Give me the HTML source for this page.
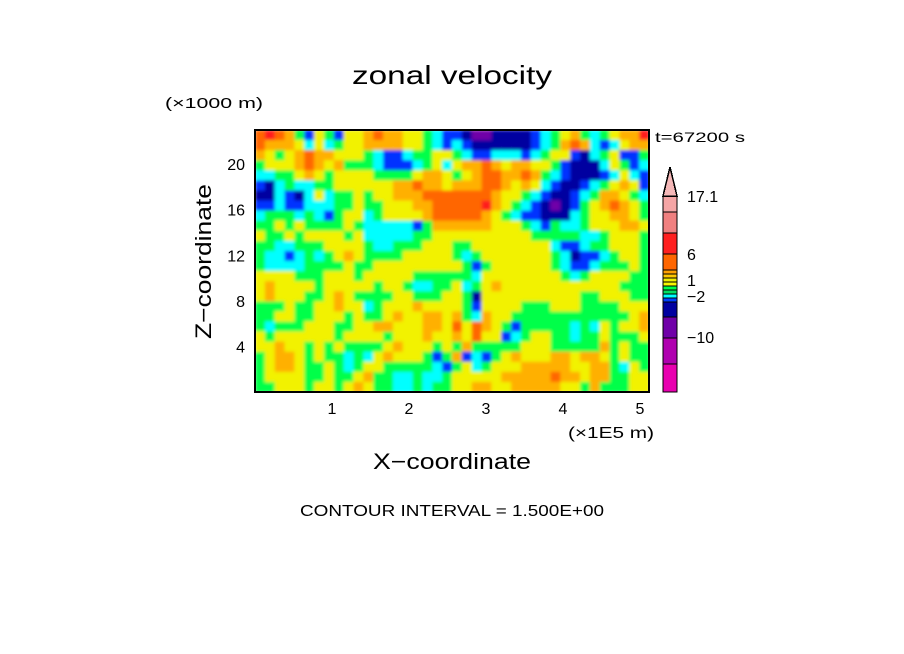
<!DOCTYPE html>
<html><head><meta charset="utf-8"><style>
html,body{margin:0;padding:0;background:#fff;}
svg{display:block;font-family:"Liberation Sans",sans-serif;}
</style></head><body>
<svg id="chart" width="904" height="654" viewBox="0 0 904 654">
<defs>
<clipPath id="plotclip"><rect x="255" y="130" width="394" height="262"/></clipPath>
<filter id="soft" x="-5%" y="-5%" width="110%" height="110%"><feGaussianBlur stdDeviation="1.6" edgeMode="duplicate"/></filter>
</defs>
<text x="352" y="84" font-size="26" textLength="200" lengthAdjust="spacingAndGlyphs">zonal velocity</text>
<text x="165" y="108" font-size="15" textLength="98" lengthAdjust="spacingAndGlyphs">(×1000 m)</text>
<text x="655" y="142" font-size="14" textLength="90" lengthAdjust="spacingAndGlyphs">t=67200 s</text>
<g clip-path="url(#plotclip)"><g id="heat" filter="url(#soft)"></g></g>
<rect x="255" y="130" width="394" height="262" fill="none" stroke="#000" stroke-width="2"/>
<g id="xticks"></g>
<g id="yticks"></g>
<text x="568" y="438" font-size="16" textLength="86" lengthAdjust="spacingAndGlyphs">(×1E5 m)</text>
<text x="373" y="469" font-size="22" textLength="158" lengthAdjust="spacingAndGlyphs">X−coordinate</text>
<text transform="translate(211,339) rotate(-90)" font-size="22" textLength="155" lengthAdjust="spacingAndGlyphs">Z−coordinate</text>
<text x="300" y="516" font-size="16" textLength="304" lengthAdjust="spacingAndGlyphs">CONTOUR INTERVAL = 1.500E+00</text>
<g id="cbar" shape-rendering="crispEdges"></g>
</svg>
<script>
// heatmap level indices (0 purple ... 8 red), rows top (high Z) to bottom
const zonalRows = [
"7876425425567665543221001111234564345668",
"7666535345566665543232111111234676323566",
"6545676655543223445543223332345521345224",
"4555676564443222345356676566554211135423",
"3344565455554444566545677667643211123532",
"2134334455555566766566677656532112345652",
"1132135344545566677777776554321123466543",
"2232233344544555667777786543210124567654",
"3444343245534555567777765432211134556654",
"4454544445433333246666665554324334555665",
"5445455554533333445555555555444443345554",
"4433444555543344455544555555553223445554",
"4332343456544445555543455555554312234554",
"4333344445445555555554245555554322344454",
"5555444555455555444444355555555434555544",
"5655554555554554334453456555555555555444",
"5655544565444455444554155555555554455544",
"4445445565534555655554255554445554444555",
"4455445554544565566564365544444444444456",
"4344455544556655566575765424444434354556",
"5455555545555455565565755234554434454445",
"5565545454444565554546444445554444464544",
"4566545443435655542462324565556656654544",
"4566544543455444443245345556666655664354",
"4555544544564433433455555666667665664455",
"4455545545654433434455665566666554644455"
];
const zonalLevels = zonalRows.map(r => r.split("").map(Number));
const levelColors = ["#7000a8","#0000a0","#0030ff","#00ffff","#00ff48","#f2f200","#ffb000","#ff6600","#ff1e1e"];
const xTickValues = [1,2,3,4,5];
const xTickLabels = ["1","2","3","4","5"];
const yTickValues = [4,8,12,16,20];
const yTickLabels = ["4","8","12","16","20"];
const cbarColors = ["#f5a5a5","#f08080","#ff2020","#ff6600","#ffa000","#ffc800","#f0f000","#f8f800","#00ff48","#00e060","#00ffff","#0040ff","#0000a0","#7000a8","#b000b0","#e800b0"];
const cbarBounds = [196,212,233,254,270,274,278,282,286,290,294,298,302,317,338,364,392];
const cbarLabels = ["17.1","6","1","−2","−10"];
const cbarLabelY = [202,260,286,302,343];

const NS = "http://www.w3.org/2000/svg";
const X0 = 255, X1 = 649, Y0 = 392, Y1 = 130, XMAX = 5.117, ZMAX = 23;
const xs = v => X0 + (v / XMAX) * (X1 - X0);
const ys = v => Y0 - (v / ZMAX) * (Y0 - Y1);
function mk(tag, attrs, parent){const e=document.createElementNS(NS,tag);for(const k in attrs)e.setAttribute(k,attrs[k]);parent.appendChild(e);return e;}

const heat = document.getElementById("heat");
const nr = zonalLevels.length, nc = zonalLevels[0].length;
const cw = (X1 - X0) / nc, ch = (Y0 - Y1) / nr;
zonalLevels.forEach((row, r) => row.forEach((lv, c) => {
  const rc = mk("rect", {x:(X0 + c*cw).toFixed(2), y:(Y1 + r*ch).toFixed(2), width:(cw+0.6).toFixed(2), height:(ch+0.6).toFixed(2), fill:levelColors[lv]}, heat);
  
  
}));

const xt = document.getElementById("xticks");
xTickValues.forEach((v,i) => {
  const t = mk("text", {x:xs(v), y:414, "font-size":16, "text-anchor":"middle"}, xt);
  t.textContent = xTickLabels[i];
  
  
});
const yt = document.getElementById("yticks");
yTickValues.forEach((v,i) => {
  const t = mk("text", {x:245, y:ys(v)+6, "font-size":16, "text-anchor":"end"}, yt);
  t.textContent = yTickLabels[i];
  
  
});

const cb = document.getElementById("cbar");
cbarColors.forEach((col,i) => {
  const r = mk("rect", {x:663, y:cbarBounds[i], width:14, height:cbarBounds[i+1]-cbarBounds[i], fill:col, stroke:"#000", "stroke-width":1.2}, cb);
  
  
});
const tri = mk("polygon", {points:"663,196 677,196 670,167", fill:"#f5b8b8", stroke:"#000", "stroke-width":1.5}, cb);


cbarLabels.forEach((l,i) => {
  const t = mk("text", {x:687, y:cbarLabelY[i], "font-size":16}, cb);
  t.textContent = l;
  
  
});
</script>
</body></html>
